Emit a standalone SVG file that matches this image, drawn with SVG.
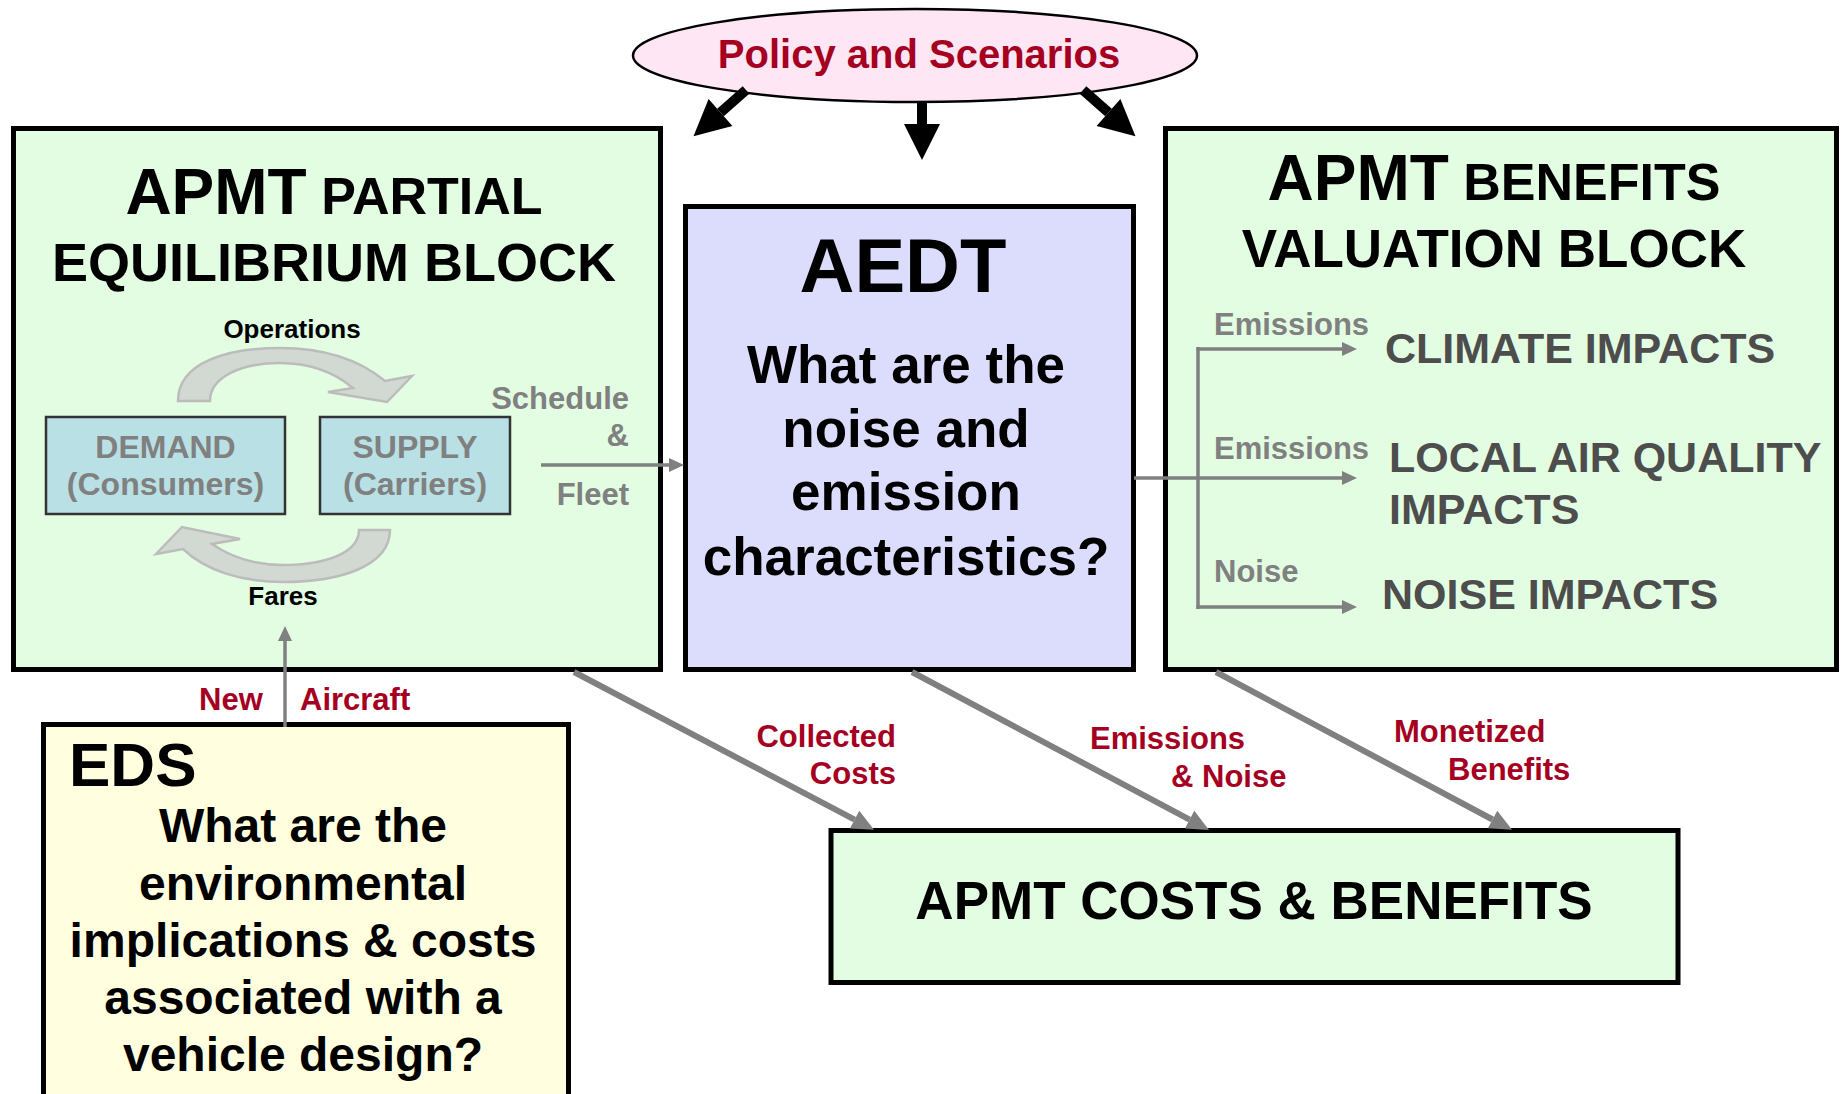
<svg xmlns="http://www.w3.org/2000/svg" width="1841" height="1094" viewBox="0 0 1841 1094">
<style>
text{font-family:"Liberation Sans",Arial,sans-serif;font-weight:bold}
.box{stroke:#000;stroke-width:5}
.green{fill:#e2fde2}
.blk{fill:#000}
.gry{fill:#808080}
.dgry{fill:#4d4d4d}
.red{fill:#a50021}
.thin{stroke:#808080;stroke-width:3.5;fill:none}
.thick{stroke:#808080;stroke-width:6;fill:none}
.bk{stroke:#000;stroke-width:10;fill:none}
.cyc{fill:#d2d8d2;stroke:#bcbcbc;stroke-width:2.5}
</style>
<defs>
<marker id="ht" markerUnits="userSpaceOnUse" markerWidth="16" markerHeight="16" refX="0" refY="8" orient="auto" overflow="visible"><path d="M0,1 L15,8 L0,15 Z" fill="#808080"/></marker>
<marker id="hk" markerUnits="userSpaceOnUse" markerWidth="24" markerHeight="22" refX="0" refY="11" orient="auto" overflow="visible"><path d="M0,1 L22,11 L0,21 Z" fill="#808080"/></marker>
<marker id="hb" markerUnits="userSpaceOnUse" markerWidth="38" markerHeight="38" refX="0" refY="19" orient="auto" overflow="visible"><path d="M0,1 L36,19 L0,37 Z" fill="#000"/></marker>
</defs>
<rect width="1841" height="1094" fill="#fff"/>

<g id="policy">
<ellipse cx="915" cy="55.5" rx="282" ry="46.5" fill="#fee6f4" stroke="#000" stroke-width="2.5"/>
<text x="919" y="68" font-size="40" text-anchor="middle" class="red">Policy and Scenarios</text>
</g>

<g id="equilibrium">
<rect x="13.5" y="128.5" width="647" height="541" class="box green"/>
<text x="334" y="214" text-anchor="middle" class="blk"><tspan font-size="64">APMT</tspan><tspan font-size="52"> PARTIAL</tspan></text>
<text x="334" y="281" text-anchor="middle" font-size="54" class="blk">EQUILIBRIUM BLOCK</text>
<text x="292" y="338" text-anchor="middle" font-size="26" class="blk">Operations</text>
<path class="cyc" d="M178,401 C178,362 228,348 280,348 C328,348 362,362 385,381 L412,376 L387,402 L328,392 L353,388 C335,373 310,363 280,363 C243,363 210,376 210,401 Z"/>
<path class="cyc" d="M390,530 C390,566 340,582 283,582 C240,582 205,570 183,549 L156,554 L182,527 L240,539 L212,544 C232,558 258,565 283,565 C325,565 359,553 359,530 Z"/>
<text x="283" y="605" text-anchor="middle" font-size="26" class="blk">Fares</text>
<text x="629" y="409" text-anchor="end" font-size="31" class="gry">Schedule</text>
<text x="629" y="446" text-anchor="end" font-size="31" class="gry">&amp;</text>
<text x="629" y="505" text-anchor="end" font-size="31" class="gry">Fleet</text>
</g>

<g id="demand">
<rect x="46" y="417" width="239" height="97" fill="#b9e0e4" stroke="#333" stroke-width="2.5"/>
<text x="165.5" y="458" text-anchor="middle" font-size="32" class="gry">DEMAND</text>
<text x="165.5" y="495" text-anchor="middle" font-size="32" class="gry">(Consumers)</text>
</g>

<g id="supply">
<rect x="320" y="417" width="190" height="97" fill="#b9e0e4" stroke="#333" stroke-width="2.5"/>
<text x="415" y="458" text-anchor="middle" font-size="32" class="gry">SUPPLY</text>
<text x="415" y="495" text-anchor="middle" font-size="32" class="gry">(Carriers)</text>
</g>

<g id="aedt">
<rect x="685.5" y="206.5" width="448" height="463" class="box" fill="#dcdcfd"/>
<text x="903" y="292" text-anchor="middle" font-size="76" class="blk">AEDT</text>
<text x="906" y="383" text-anchor="middle" font-size="53" class="blk">What are the</text>
<text x="906" y="447" text-anchor="middle" font-size="53" class="blk">noise and</text>
<text x="906" y="510" text-anchor="middle" font-size="53" class="blk">emission</text>
<text x="906" y="575" text-anchor="middle" font-size="53" class="blk">characteristics?</text>
</g>

<g id="benefits-valuation">
<rect x="1165.5" y="128.5" width="671" height="541" class="box green"/>
<text x="1494" y="200" text-anchor="middle" class="blk"><tspan font-size="64">APMT</tspan><tspan font-size="52"> BENEFITS</tspan></text>
<text x="1494" y="267" text-anchor="middle" font-size="53" class="blk">VALUATION BLOCK</text>
<text x="1214" y="335" font-size="31" class="gry">Emissions</text>
<text x="1385" y="363" font-size="43" class="dgry">CLIMATE IMPACTS</text>
<text x="1214" y="459" font-size="31" class="gry">Emissions</text>
<text x="1389" y="472" font-size="43" class="dgry">LOCAL AIR QUALITY</text>
<text x="1389" y="524" font-size="43" class="dgry">IMPACTS</text>
<text x="1214" y="582" font-size="31" class="gry">Noise</text>
<text x="1382" y="609" font-size="43" class="dgry">NOISE IMPACTS</text>
</g>

<g id="eds">
<rect x="43.5" y="724.5" width="525" height="420" class="box" fill="#ffffe0"/>
<text x="69" y="786" font-size="62" class="blk">EDS</text>
<text x="303" y="842" text-anchor="middle" font-size="48" class="blk">What are the</text>
<text x="303" y="900" text-anchor="middle" font-size="48" class="blk">environmental</text>
<text x="303" y="957" text-anchor="middle" font-size="48" class="blk">implications &amp; costs</text>
<text x="303" y="1014" text-anchor="middle" font-size="48" class="blk">associated with a</text>
<text x="303" y="1071" text-anchor="middle" font-size="48" class="blk">vehicle design?</text>
</g>

<g id="costs-benefits">
<rect x="831" y="830.5" width="847" height="152" class="box green"/>
<text x="1254" y="919" text-anchor="middle" font-size="53" class="blk">APMT COSTS &amp; BENEFITS</text>
</g>

<g id="connectors">
<line x1="746" y1="90" x2="720.5" y2="112.5" class="bk" marker-end="url(#hb)"/>
<line x1="922" y1="101" x2="922" y2="124" class="bk" marker-end="url(#hb)"/>
<line x1="1083" y1="90" x2="1108.5" y2="112.5" class="bk" marker-end="url(#hb)"/>
<line x1="541" y1="465" x2="669" y2="465" class="thin" marker-end="url(#ht)"/>
<line x1="285" y1="727" x2="285" y2="641" class="thin" marker-end="url(#ht)"/>
<line x1="1134" y1="478" x2="1342" y2="478" class="thin" marker-end="url(#ht)"/>
<line x1="1198" y1="347" x2="1198" y2="609" class="thin"/>
<line x1="1196.5" y1="349" x2="1342" y2="349" class="thin" marker-end="url(#ht)"/>
<line x1="1196.5" y1="607" x2="1342" y2="607" class="thin" marker-end="url(#ht)"/>
<line x1="574" y1="672" x2="854.6" y2="819.6" class="thick" marker-end="url(#hk)"/>
<line x1="912" y1="672" x2="1189.6" y2="819.6" class="thick" marker-end="url(#hk)"/>
<line x1="1216" y1="672" x2="1492.6" y2="819.5" class="thick" marker-end="url(#hk)"/>
<text x="199" y="710" font-size="31" class="red">New</text>
<text x="300" y="710" font-size="31" class="red">Aircraft</text>
<text x="896" y="747" text-anchor="end" font-size="31" class="red">Collected</text>
<text x="896" y="784" text-anchor="end" font-size="31" class="red">Costs</text>
<text x="1090" y="749" font-size="31" class="red">Emissions</text>
<text x="1171" y="787" font-size="31" class="red">&amp; Noise</text>
<text x="1394" y="742" font-size="31" class="red">Monetized</text>
<text x="1448" y="780" font-size="31" class="red">Benefits</text>
</g>
</svg>
